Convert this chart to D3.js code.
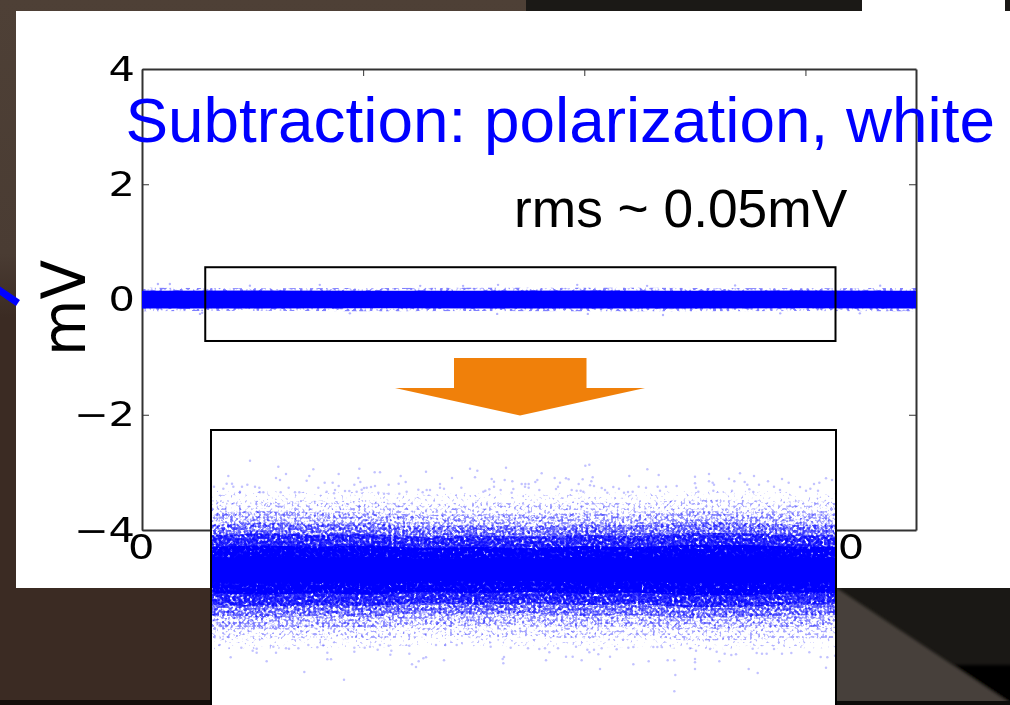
<!DOCTYPE html>
<html><head><meta charset="utf-8">
<script src="https://cdnjs.cloudflare.com/ajax/libs/d3/7.8.5/d3.min.js"></script>
<style>html,body{margin:0;padding:0;background:#fff;overflow:hidden}svg{display:block}</style>
</head><body><svg id="c" width="1010" height="705"></svg>
<script>
// ---- text
const titleText = "Subtraction: polarization, white";
const rmsText = "rms ~ 0.05mV";
const yLabel = "mV";
// ---- main plot axes
const xDomain = [0, 1750];
const yDomain = [-4, 4];
const xTicks = [0, 500, 1000, 1500];
const yTicks = [-4, -2, 0, 2, 4];
// ---- main plot band (sample, mV)
const mainSamples = [0, 250, 500, 750, 1000, 1250, 1500, 1750];
const mainCoreHi = [0.15, 0.155, 0.15, 0.15, 0.155, 0.15, 0.155, 0.15];
const mainCoreLo = [-0.155, -0.155, -0.15, -0.155, -0.155, -0.155, -0.15, -0.155];
const mainFringeHi = [0.205, 0.195, 0.2, 0.205, 0.205, 0.2, 0.195, 0.2];
const mainFringeLo = [-0.205, -0.195, -0.205, -0.2, -0.205, -0.205, -0.2, -0.205];
const mainOutliers = [[36,.27],[63,.27],[131,-.25],[136,-.23],[629,.237],[726,.237],[805,.254],[984,.254],[1142,.237],[803,-.25],[1008,-.25],[1178,-.27],[244,.24],[402,.254],[470,-.24],[1341,.245],[1443,-.24],[1623,-.24],[1669,.24]];
// ---- enlarged view: values in instrument counts
const insetXDomain = [6, 1875];
const insetYPerPixel = 3;
const insetBins = [0, 160, 320, 480, 640, 800, 960, 1120, 1280, 1440, 1600, 1760, 1880];
const insetSolid = [36, 40, 36, 40, 34, 36, 34, 38, 34, 40, 40, 36, 36];
const insetDense = [70, 74, 70, 74, 66, 70, 66, 72, 68, 76, 76, 70, 70];
const insetNear = [104, 110, 106, 108, 100, 104, 100, 106, 102, 112, 110, 104, 104];
const insetInner = [136, 142, 138, 140, 130, 134, 130, 138, 134, 144, 142, 136, 136];
const insetMid = [170, 176, 172, 174, 164, 168, 164, 172, 168, 176, 174, 170, 170];
const insetOuter = [205, 208, 205, 210, 196, 205, 198, 208, 200, 212, 210, 205, 205];
const insetFar = [238, 236, 234, 234, 226, 232, 228, 232, 232, 238, 238, 234, 236];
const insetPointsTop = [[120,328],[205,310],[310,302],[55,282],[228,288],[298,282],[198,276],[210,270],[290,268],[386,288],[448,304],[494,293],[510,293],[445,276],[572,282],[587,264],[451,264],[344,262],[368,262],[536,256],[566,259],[12,250],[50,259],[66,259],[70,250],[112,256],[96,250],[135,250],[148,247],[40,244],[236,247],[325,247],[386,252],[433,256],[495,252],[483,249],[470,247],[462,246],[455,241],[625,241],[90,235],[150,233],[160,233],[212,233],[255,233],[268,233],[350,235],[375,240],[372,230],[405,237],[418,237],[440,235],[590,235],[505,232],[522,229],[536,229],[568,229],
[648,295],[780,304],[802,298],[888,307],[795,278],[726,276],[995,290],[1126,313],[1138,316],[1258,282],[845,273],[852,265],[884,270],[907,266],[1034,276],[1068,275],[1076,272],[982,270],[976,264],[1118,272],[1148,278],[1144,266],[1050,262],[690,258],[935,258],[946,258],[956,258],[1044,250],[1140,254],[1152,252],[1106,258],[754,247],[690,247],[702,244],[650,240],[660,240],[638,233],[852,250],[838,242],[872,240],[910,243],[945,250],[956,247],[988,240],[1038,243],[1085,240],[1100,238],[1112,238],[1120,235],[1175,246],[1185,240],[1210,249],[1227,244],[1192,232],[1242,232],[1254,234],[826,238],[820,235],[905,232],
[1312,302],[1346,285],[1455,280],[1497,288],[1590,290],[1632,282],[1557,274],[1848,275],[1866,270],[1716,273],[1497,266],[1508,262],[1512,256],[1455,260],[1573,266],[1604,264],[1612,256],[1647,256],[1674,266],[1736,262],[1286,250],[1308,247],[1343,250],[1368,250],[1400,252],[1458,247],[1770,249],[1812,258],[1828,262],[1618,242],[1692,250],[1710,240],[1788,238],[1801,244],[1824,238],[1268,235],[1350,238],[1465,235],[1510,238],[1566,238],[1630,234]];
const insetPointsBottom = [[28,-225],[94,-233],[128,-242],[140,-236],[140,-248],[62,-262],[170,-274],[198,-248],[237,-236],[322,-232],[352,-248],[352,-268],[363,-268],[283,-306],[402,-329],[433,-233],[433,-245],[464,-233],[480,-230],[510,-225],[503,-239],[536,-227],[544,-242],[541,-254],[598,-227],[598,-251],[626,-274],[606,-283],[618,-291],[265,-235],[228,-235],[190,-230],[340,-225],[295,-225],
[640,-265],[648,-262],[702,-271],[882,-261],[878,-267],[880,-280],[1008,-271],[1068,-260],[1088,-260],[1115,-271],[1170,-297],[1165,-253],[1200,-260],[1255,-233],[1220,-238],[1132,-239],[1138,-247],[1152,-239],[1098,-230],[1018,-247],[1005,-235],[988,-237],[954,-235],[902,-233],[842,-230],[740,-225],[706,-225],[678,-225],[1175,-235],[1044,-235],
[1270,-231],[1270,-283],[1316,-274],[1373,-271],[1393,-271],[1455,-267],[1455,-277],[1455,-297],[1396,-315],[1393,-364],[1528,-274],[1616,-297],[1643,-309],[1832,-261],[1852,-262],[1848,-293],[1875,-257],[1640,-249],[1656,-251],[1670,-251],[1716,-251],[1744,-249],[1798,-247],[1544,-251],[1564,-255],[1578,-253],[1520,-245],[1500,-237],[1458,-242],[1440,-235],[1330,-231],[1342,-231],[1355,-231],[1628,-236],[1692,-237]];

const BLUE = "#0000ff";
const svg = d3.select("#c");
const defs = svg.append("defs");
defs.append("filter").attr("id","soft").attr("x","-5%").attr("y","-5%").attr("width","110%").attr("height","110%")
  .append("feGaussianBlur").attr("stdDeviation",0.45);
defs.append("filter").attr("id","softBg").attr("filterUnits","userSpaceOnUse").attr("x",800).attr("y",560).attr("width",240).attr("height",180)
  .append("feGaussianBlur").attr("stdDeviation",1.6);

// ---- slide background
const bg = svg.append("g");
const leftGrad = defs.append("linearGradient").attr("id","leftGrad").attr("x1",0).attr("y1",0).attr("x2",0).attr("y2",1);
leftGrad.append("stop").attr("offset","0").attr("stop-color","#4e4036");
leftGrad.append("stop").attr("offset","0.36").attr("stop-color","#4a3c33");
leftGrad.append("stop").attr("offset","0.45").attr("stop-color","#3b2b23");
leftGrad.append("stop").attr("offset","1").attr("stop-color","#3b2b23");
bg.append("rect").attr("width",1010).attr("height",705).attr("fill","#ffffff");
bg.append("rect").attr("x",0).attr("y",0).attr("width",526).attr("height",705).attr("fill","url(#leftGrad)");
bg.append("rect").attr("x",526).attr("y",0).attr("width",336).attr("height",11).attr("fill","#1b1916");
bg.append("rect").attr("x",1005).attr("y",0).attr("width",5).attr("height",11).attr("fill","#1b1916");
bg.append("rect").attr("x",0).attr("y",700).attr("width",526).attr("height",5).attr("fill","#140e0b");
bg.append("rect").attr("x",836).attr("y",588).attr("width",174).attr("height",117).attr("fill","#1a1815");
const bgSoft = bg.append("g").attr("filter","url(#softBg)");
bgSoft.append("rect").attr("x",950).attr("y",665).attr("width",70).attr("height",50).attr("fill","#000");
bgSoft.append("path").attr("d",d3.line()([[826,581],[1010,703],[826,703]])+"Z").attr("fill","#46413a");
bg.append("rect").attr("x",836).attr("y",701).attr("width",174).attr("height",4).attr("fill","#0d0c0a");
bg.append("rect").attr("x",16).attr("y",11).attr("width",994).attr("height",577).attr("fill","#ffffff");
bg.append("line").attr("x1",-4).attr("y1",288).attr("x2",18).attr("y2",303).attr("stroke",BLUE).attr("stroke-width",7);

// ---- main plot
const W = {l:142, r:916, t:69, b:530};
const x = d3.scaleLinear().domain(xDomain).range([W.l, W.r]);
const y = d3.scaleLinear().domain(yDomain).range([W.b, W.t]);

function grain(id, seed, freq, k, c, blur){
  const f = defs.append("filter").attr("id",id).attr("filterUnits","userSpaceOnUse")
    .attr("x",0).attr("y",0).attr("width",1010).attr("height",705)
    .attr("color-interpolation-filters","sRGB");
  f.append("feTurbulence").attr("type","fractalNoise").attr("baseFrequency",freq).attr("numOctaves",1).attr("seed",seed).attr("result","n");
  f.append("feColorMatrix").attr("in","n").attr("type","matrix")
    .attr("values",`0 0 0 0 0  0 0 0 0 0  0 0 0 0 0  ${k} 0 0 0 ${c}`).attr("result","m");
  f.append("feComposite").attr("in","SourceGraphic").attr("in2","m").attr("operator","in").attr("result","g");
  f.append("feGaussianBlur").attr("in","g").attr("stdDeviation",blur);
}
grain("gMain", 4, 0.3, 8, -3.9, 0.5);
grain("gFar", 7, 0.36, 8, -4.9, 0.4);
grain("gOuter", 11, 0.36, 8, -4.4, 0.4);
grain("gMid", 19, 0.36, 8, -3.9, 0.4);
grain("gInner", 23, 0.36, 8, -3.4, 0.4);
grain("gNear", 31, 0.36, 8, -2.9, 0.4);
grain("gDense", 37, 0.36, 8, -2.3, 0.4);

const plot = svg.append("g").attr("filter","url(#soft)");
const stretch = 1.24;
const axisColor = "#333";
function styleAxis(g, showText){
  g.select(".domain").attr("stroke",axisColor).attr("stroke-width",2);
  g.selectAll(".tick line").attr("stroke",axisColor).attr("stroke-width",1);
  if(!showText) g.selectAll(".tick text").remove();
}
const fontTick = `33.5px "DejaVu Sans"`;
const gl = plot.append("g").attr("transform",`translate(${W.l},0)`).call(d3.axisLeft(y).tickValues(yTicks).tickSizeInner(-7).tickSizeOuter(0).tickPadding(0));
styleAxis(gl,true);
gl.selectAll(".tick text").style("font",fontTick).attr("fill","#000").attr("text-anchor","end")
  .attr("x",-7/stretch).attr("dy","0.33em").attr("transform",`scale(${stretch},1)`);
const gr = plot.append("g").attr("transform",`translate(${W.r},0)`).call(d3.axisRight(y).tickValues(yTicks).tickSizeInner(-7).tickSizeOuter(0));
styleAxis(gr,false);
const gt = plot.append("g").attr("transform",`translate(0,${W.t})`).call(d3.axisTop(x).tickValues(xTicks).tickSizeInner(-7).tickSizeOuter(0));
styleAxis(gt,false);
const gb = plot.append("g").attr("transform",`translate(0,${W.b})`).call(d3.axisBottom(x).tickValues(xTicks).tickSizeInner(-7).tickSizeOuter(0));
styleAxis(gb,true);
gb.selectAll(".tick text").style("font",fontTick).attr("fill","#000").attr("text-anchor","middle")
  .attr("y",29).attr("dy",0).attr("x",-1).attr("transform",`scale(${stretch},1)`);
plot.append("text").attr("transform","translate(85,356) rotate(-90) scale(0.95,1)")
  .style("font",`61px "DejaVu Sans"`).attr("fill","#000").text(yLabel);

// main band
const mArea = (hi,lo)=>d3.area().x((d,i)=>x(mainSamples[i])).y0((d,i)=>y(lo[i])).y1((d,i)=>y(hi[i]))(mainSamples);
svg.append("path").attr("d",mArea(mainFringeHi,mainFringeLo)).attr("fill",BLUE).attr("fill-opacity",0.5).attr("filter","url(#gMain)");
svg.append("path").attr("d",mArea(mainCoreHi,mainCoreLo)).attr("fill",BLUE);
svg.append("g").selectAll("circle").data(mainOutliers).join("circle")
  .attr("cx",d=>x(d[0])).attr("cy",d=>y(d[1])).attr("r",1.2).attr("fill",BLUE).attr("fill-opacity",0.3);

// selection box
svg.append("rect").attr("x",x(143)).attr("y",y(0.56)).attr("width",x(1568)-x(143)).attr("height",y(-0.72)-y(0.56))
  .attr("fill","none").attr("stroke","#000").attr("stroke-width",2);

// arrow
svg.append("path").attr("d",d3.line()([[454,358],[586.5,358],[586.5,388],[645,388],[520,415.5],[395,388],[454,388]])+"Z").attr("fill","#f0800a");

// ---- enlarged view
const box = {l:212, r:835, t:431, mid:570};
const ix = d3.scaleLinear().domain(insetXDomain).range([box.l, box.r]);
const iy = d3.scaleLinear().domain([0, insetYPerPixel]).range([box.mid, box.mid-1]);
defs.append("clipPath").attr("id","insetClip").append("rect").attr("x",box.l).attr("y",box.t).attr("width",box.r-box.l).attr("height",705-box.t);
svg.append("rect").attr("x",box.l-1).attr("y",box.t-1).attr("width",box.r-box.l+2).attr("height",720).attr("fill","#fff").attr("stroke","#000").attr("stroke-width",2);
const inset = svg.append("g").attr("clip-path","url(#insetClip)");
const iArea = w=>d3.area().x((d,i)=>ix(insetBins[i])).y0((d,i)=>iy(-w[i])).y1((d,i)=>iy(w[i]))(insetBins);
[[insetFar,"gFar",0.3],[insetOuter,"gOuter",0.35],[insetMid,"gMid",0.45],[insetInner,"gInner",0.6],[insetNear,"gNear",0.8],[insetDense,"gDense",1]].forEach(([w,f,o])=>{
  inset.append("path").attr("d",iArea(w)).attr("fill",BLUE).attr("fill-opacity",o).attr("filter",`url(#${f})`);
});
inset.append("path").attr("d",iArea(insetSolid)).attr("fill",BLUE);
inset.append("g").selectAll("circle").data(insetPointsTop.concat(insetPointsBottom)).join("circle")
  .attr("cx",d=>ix(d[0])).attr("cy",d=>iy(d[1])).attr("r",1.25).attr("fill",BLUE).attr("fill-opacity",0.24);

// ---- slide text
svg.append("text").attr("x",125.5).attr("y",142).style("font",`63.85px "Liberation Sans"`).attr("fill",BLUE).text(titleText);
svg.append("text").attr("x",514).attr("y",227).style("font",`53.3px "Liberation Sans"`).attr("fill","#000").text(rmsText);
</script></body></html>
